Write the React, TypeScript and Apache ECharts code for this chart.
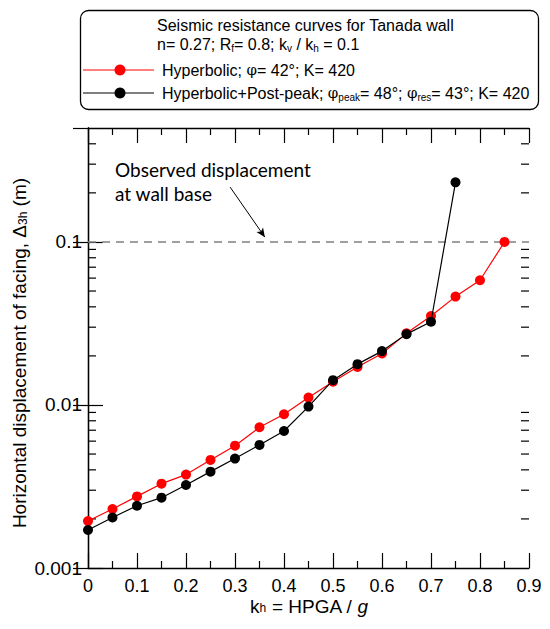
import React, { useEffect, useRef } from "react";
import * as echarts from "echarts";

const kh = [0, 0.05, 0.1, 0.15, 0.2, 0.25, 0.3, 0.35, 0.4, 0.45, 0.5, 0.55, 0.6, 0.65, 0.7, 0.75, 0.8, 0.85];
const hyperbolic = [0.00194, 0.0023, 0.00275, 0.00329, 0.00374, 0.0046, 0.00563, 0.0073, 0.00877, 0.0111, 0.0139, 0.0171, 0.0207, 0.0275, 0.0351, 0.0462, 0.0582, 0.1];
const postPeak = [0.00171, 0.00204, 0.00241, 0.0027, 0.00323, 0.0039, 0.00469, 0.00569, 0.00692, 0.00977, 0.0142, 0.0178, 0.0214, 0.0272, 0.0324, 0.232];
const observed = 0.1;
const arrowFrom = [0.29, 0.217];
const arrowTo = [0.361, 0.107];
const yMinorTicks = [0.002, 0.003, 0.004, 0.005, 0.006, 0.007, 0.008, 0.009, 0.02, 0.03, 0.04, 0.05, 0.06, 0.07, 0.08, 0.09, 0.2, 0.3, 0.4];
const xMin = 0;
const xMax = 0.9;
const xStep = 0.1;
const yMin = 0.001;
const yMax = 0.5;

const FONT = "'Liberation Sans', Arial, sans-serif";

export default function App() {
  const ref = useRef<HTMLDivElement>(null);
  useEffect(() => {
    if (!ref.current) return;
    const chart = echarts.init(ref.current, null, { renderer: "svg" });
    const fmtY = (v: number) => Number(v.toPrecision(3)).toString();
    const sub = { fontSize: 10, lineHeight: 7, verticalAlign: "bottom", fontFamily: FONT, fill: "#000" };
    const phi = { fontSize: 15, fontFamily: "'DejaVu Serif', serif", fill: "#000" };
    const option: any = {
      animation: false,
      backgroundColor: "#fff",
      grid: { left: 88, top: 128, width: 441, height: 440 },
      xAxis: [
        {
          type: "value", min: xMin, max: xMax, interval: xStep, position: "bottom",
          axisLine: { lineStyle: { color: "#000", width: 1.3 } },
          axisTick: { inside: true, length: 15, lineStyle: { color: "#000", width: 1.2 } },
          minorTick: { show: true, splitNumber: 2, length: 7, lineStyle: { color: "#000", width: 1.2 } },
          splitLine: { show: false },
          axisLabel: { fontSize: 18, lineHeight: 16, color: "#000", fontFamily: FONT, margin: 10 },
        },
        {
          type: "value", min: xMin, max: xMax, interval: xStep, position: "top",
          axisLine: { lineStyle: { color: "#000", width: 1.3 } },
          axisTick: { inside: true, length: 15, lineStyle: { color: "#000", width: 1.2 } },
          minorTick: { show: true, splitNumber: 2, length: 7, lineStyle: { color: "#000", width: 1.2 } },
          splitLine: { show: false },
          axisLabel: { show: false },
        },
      ],
      yAxis: [
        {
          type: "log", logBase: 10, min: yMin, max: yMax, position: "left",
          axisLine: { show: true, lineStyle: { color: "#000", width: 1.3 } },
          axisTick: { show: true, inside: true, length: 15, lineStyle: { color: "#000", width: 1.2 } },
          splitLine: { show: false },
          axisLabel: { fontSize: 19, color: "#000", fontFamily: FONT, margin: 6, showMaxLabel: false, formatter: fmtY },
        },
        {
          type: "log", logBase: 10, min: yMin, max: yMax, position: "right",
          axisLine: { show: true, lineStyle: { color: "#000", width: 1.3 } },
          axisTick: { show: true, inside: true, length: 15, lineStyle: { color: "#000", width: 1.2 } },
          splitLine: { show: false },
          axisLabel: { show: false },
        },
      ],
      series: [
        {
          type: "custom",
          name: "minorTicks",
          silent: true,
          xAxisIndex: 0,
          yAxisIndex: 0,
          data: yMinorTicks.map((v) => [xMin, v]),
          renderItem: (params: any, api: any) => {
            const cs = params.coordSys;
            const p = api.coord([xMin, api.value(1)]);
            const st = { stroke: "#000", lineWidth: 1.2 };
            return {
              type: "group",
              children: [
                { type: "line", shape: { x1: cs.x, y1: p[1], x2: cs.x + 8, y2: p[1] }, style: st },
                { type: "line", shape: { x1: cs.x + cs.width - 8, y1: p[1], x2: cs.x + cs.width, y2: p[1] }, style: st },
              ],
            };
          },
          z: 1,
        },
        {
          type: "line",
          name: "Hyperbolic",
          data: hyperbolic.map((v, i) => [kh[i], v]),
          symbol: "circle",
          symbolSize: 10,
          lineStyle: { color: "#ff0000", width: 1.2 },
          itemStyle: { color: "#ff0000" },
          z: 3,
          markLine: {
            silent: true,
            symbol: ["none", "none"],
            label: { show: false },
            lineStyle: { color: "#808080", type: [8, 6], width: 1.5 },
            data: [{ yAxis: observed }],
            z: 2,
          },
        },
        {
          type: "line",
          name: "Hyperbolic+Post-peak",
          data: postPeak.map((v, i) => [kh[i], v]),
          symbol: "circle",
          symbolSize: 10,
          lineStyle: { color: "#000", width: 1.2 },
          itemStyle: { color: "#000" },
          z: 4,
          markLine: {
            silent: true,
            symbol: ["none", "arrow"],
            symbolSize: [6, 9],
            label: { show: false },
            lineStyle: { color: "#000", type: "solid", width: 1 },
            data: [[{ coord: arrowFrom }, { coord: arrowTo }]],
          },
        },
      ],
      graphic: [
        {
          type: "rect",
          shape: { x: 80.5, y: 10.5, width: 458, height: 99, r: 8 },
          style: { fill: "#fff", stroke: "#000", lineWidth: 1.3 },
          z: 10,
        },
        {
          type: "text", x: 157, y: 25, z: 11,
          style: { text: "Seismic resistance curves for Tanada wall", fontSize: 16, fontFamily: FONT, fill: "#000", verticalAlign: "middle" },
        },
        {
          type: "text", x: 157, y: 44, z: 11,
          style: {
            text: "n= 0.27; R{s|f}= 0.8; k{s|v} / k{s|h} = 0.1",
            fontSize: 16, lineHeight: 18, fontFamily: FONT, fill: "#000", verticalAlign: "middle",
            rich: { s: sub },
          },
        },
        { type: "line", shape: { x1: 83, y1: 70, x2: 154, y2: 70 }, style: { stroke: "#ff0000", lineWidth: 1.2 }, z: 11 },
        { type: "circle", shape: { cx: 120, cy: 70, r: 5.5 }, style: { fill: "#ff0000" }, z: 11 },
        {
          type: "text", x: 162, y: 70, z: 11,
          style: {
            text: "Hyperbolic; {p|φ}= 42°; K= 420",
            fontSize: 16, lineHeight: 18, fontFamily: FONT, fill: "#000", verticalAlign: "middle",
            rich: { p: phi },
          },
        },
        { type: "line", shape: { x1: 83, y1: 93, x2: 154, y2: 93 }, style: { stroke: "#000", lineWidth: 1.2 }, z: 11 },
        { type: "circle", shape: { cx: 120, cy: 93, r: 5.5 }, style: { fill: "#000" }, z: 11 },
        {
          type: "text", x: 162, y: 93, z: 11,
          style: {
            text: "Hyperbolic+Post-peak; {p|φ}{s|peak}= 48°; {p|φ}{s|res}= 43°; K= 420",
            fontSize: 16, lineHeight: 18, fontFamily: FONT, fill: "#000", verticalAlign: "middle",
            rich: { p: phi, s: sub },
          },
        },
        {
          type: "text", x: 115, y: 169, z: 11,
          style: { text: "Observed displacement", fontSize: 19, fontFamily: "Lato, 'Open Sans', sans-serif", fill: "#000", verticalAlign: "middle" },
        },
        {
          type: "text", x: 115, y: 193, z: 11,
          style: { text: "at wall base", fontSize: 19, fontFamily: "Lato, 'Open Sans', sans-serif", fill: "#000", verticalAlign: "middle" },
        },
        {
          type: "text", x: 19, y: 353, rotation: Math.PI / 2, z: 11,
          style: {
            text: "Horizontal displacement of facing, Δ{s|3h} (m)",
            fontSize: 19, lineHeight: 20, fontFamily: FONT, fill: "#000", align: "center", verticalAlign: "middle",
            rich: { s: { fontSize: 12, lineHeight: 7, verticalAlign: "bottom", fontFamily: FONT, fill: "#000" } },
          },
        },
        {
          type: "text", x: 309, y: 606, z: 11,
          style: {
            text: "k{s|h} = HPGA / {i|g}",
            fontSize: 19, lineHeight: 16, fontFamily: FONT, fill: "#000", align: "center", verticalAlign: "middle",
            rich: {
              s: { fontSize: 12, lineHeight: 3, verticalAlign: "bottom", fontFamily: FONT, fill: "#000" },
              i: { fontSize: 19, lineHeight: 16, fontStyle: "italic", fontFamily: FONT, fill: "#000" },
            },
          },
        },
      ],
    };
    chart.setOption(option);
    return () => chart.dispose();
  }, []);
  return <div ref={ref} style={{ position: "fixed", left: 0, top: 0, width: 550, height: 629 }} />;
}
